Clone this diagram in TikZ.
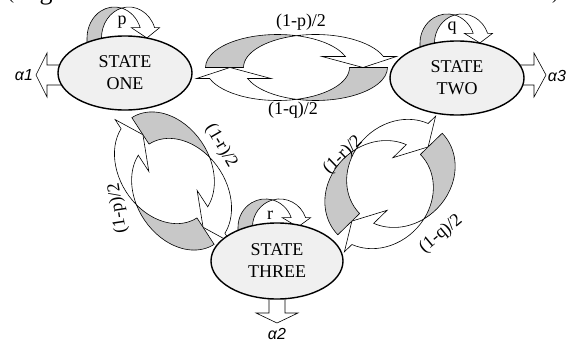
\documentclass[tikz,border=0pt]{standalone}
\usepackage{fontspec}
\setmainfont{Liberation Serif}
\newfontfamily\alphafont{Liberation Sans}
\usetikzlibrary{shapes.geometric}
\definecolor{shadegray}{RGB}{200,200,200}
\definecolor{stategray}{RGB}{240,240,240}
\tikzset{
  ring/.style={draw=black, line width=0.6pt, line join=miter},
  backpart/.style={ring, fill=shadegray},
  frontpart/.style={ring, fill=white},
  outarrow/.style={draw=black, line width=0.6pt, fill=white, line join=miter},
  state/.style={ellipse, draw=black, line width=1.4pt, fill=stategray, inner sep=0pt,
    align=center, font=\fontsize{18}{22}\selectfont},
  lbl/.style={font=\fontsize{18}{20}\selectfont, inner sep=0pt},
  alab/.style={font=\alphafont\itshape\fontsize{16}{18}\selectfont, inner sep=0pt},
}
% one curved block arrow in local coordinates; #1 = tail extension below base
\newcommand\CurvArrow[1]{%
  \path[backpart] (-91,-#1) -- (-91,0)
     arc[start angle=180, end angle=74.70, x radius=72, y radius=33]
     arc[start angle=105.30, end angle=180, x radius=72, y radius=33]
     -- (-53,-#1) -- cycle;
  \path[frontpart] (0,31.83)
     arc[start angle=105.30, end angle=19.47, x radius=72, y radius=33]
     -- (100,11) -- (66.5,0) -- (25.5,11) -- (48.88,11)
     arc[start angle=19.47, end angle=74.70, x radius=72, y radius=33]
     -- cycle;
}
\newcommand\CurvPair{%
  \CurvArrow{0}
  \begin{scope}[rotate=180]\CurvArrow{0}\end{scope}
}
\begin{document}
\begin{tikzpicture}[x=1pt,y=1pt]
\useasboundingbox (0,0) rectangle (570,341);
% caption fragments cut by the top edge
\node[lbl, anchor=base] (capa) at (11,341.5) {(};
\node[lbl, anchor=base, font=\fontsize{26}{28}\selectfont] (capb) at (46,341.5) {g};
\node[lbl, anchor=base] (capc) at (555,341.5) {)};
% centres of the states
\coordinate (c1) at (125,268);
\coordinate (c2) at (457,263);
\coordinate (c3) at (277,80);
% transition rings
\begin{scope}[shift={(296.5,273.5)}]\CurvPair\end{scope}
\begin{scope}[shift={(173,160)}, rotate=-57, xscale=0.83, yscale=1.37]\CurvPair\end{scope}
\begin{scope}[shift={(390,157)}, rotate=44.2, xscale=0.80, yscale=1.53]\CurvPair\end{scope}
% self loops
\begin{scope}[shift={(121.6,303)}, xscale=0.38, yscale=0.94]\CurvArrow{6}\end{scope}
\begin{scope}[shift={(454.6,298)}, xscale=0.38, yscale=0.88]\CurvArrow{6}\end{scope}
\begin{scope}[shift={(272.6,114)}, xscale=0.38, yscale=0.85]\CurvArrow{6}\end{scope}
% output arrows
\draw[outarrow] (70,276) -- (47,276) -- (47,288) -- (36,266) -- (47,244) -- (47,256) -- (70,256) -- cycle;
\draw[outarrow] (510,276) -- (534,276) -- (534,288) -- (546,266) -- (534,244) -- (534,256) -- (510,256) -- cycle;
\draw[outarrow] (269,60) -- (269,28) -- (256,28) -- (277,18) -- (298,28) -- (285,28) -- (285,60) -- cycle;
% states
\node[state, minimum width=134pt, minimum height=74pt] (one) at (c1) {STATE\\ONE};
\node[state, minimum width=134pt, minimum height=74pt] (two) at (c2) {STATE\\TWO};
\node[state, minimum width=132pt, minimum height=76pt] (three) at (c3) {STATE\\THREE};
% output labels
\node[alab] (a1) at (24,266) {α1};
\node[alab] (a3) at (557,265) {α3};
\node[alab] (a2) at (277,7) {α2};
% probability labels
\node[lbl] (lp) at (122,319) {p};
\node[lbl] (lq) at (452,313) {q};
\node[lbl] (lr) at (270,126) {r};
\node[lbl] (t12) at (301,319) {(1-p)/2};
\node[lbl] (t21) at (293,231) {(1-q)/2};
\node[lbl, rotate=-60] (t31) at (221,195) {(1-r)/2};
\node[lbl, rotate=99] (t13) at (118,133) {(1-p)/2};
\node[lbl, rotate=44] (t32) at (343,186) {(1-r)/2};
\node[lbl, rotate=40] (t23) at (441,107) {(1-q)/2};
\end{tikzpicture}
\end{document}
